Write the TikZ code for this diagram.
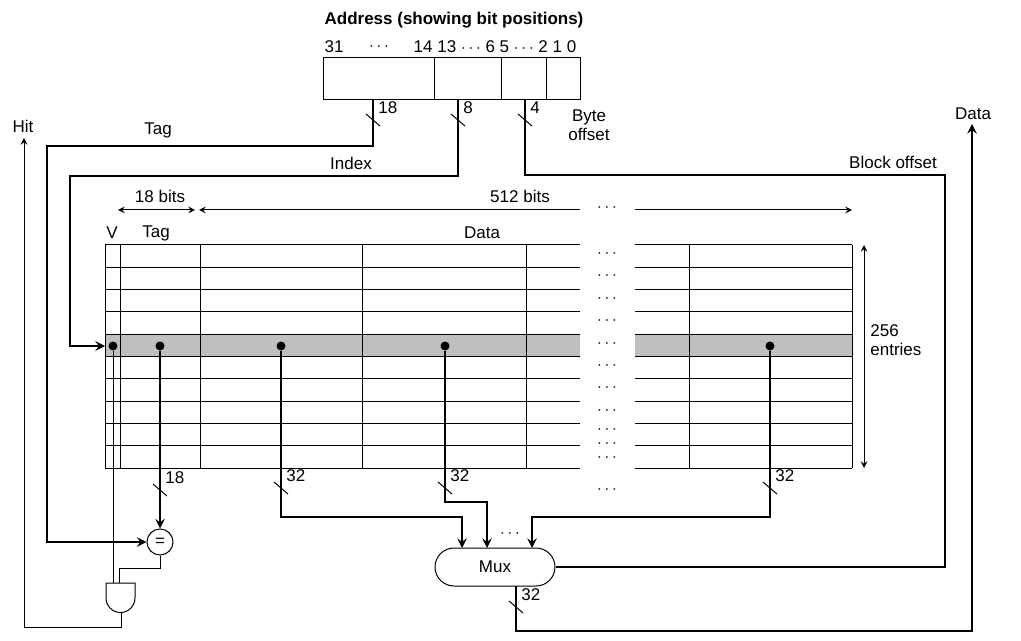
\documentclass[tikz,border=0pt]{standalone}
\usepackage{fontspec}
\setmainfont{Liberation Sans}
\usetikzlibrary{positioning,shapes.misc}
\tikzset{
  wire/.style={line width=1.1pt},
  thin/.style={line width=0.5pt},
  lbl/.style={font=\fontsize{8.5}{9.5}\selectfont, inner sep=1pt},
  tap/.style={circle, fill=black, inner sep=0pt, minimum size=4.5pt},
}
\newcommand{\busmark}[3]{\draw[thin] (#1-7,#2-6) -- (#1+7,#2+6); \node[lbl, anchor=south west] at (#1+3,#2-4) {#3};}
\begin{document}
\begin{tikzpicture}[x=0.5pt,y=-0.5pt,>=stealth]
\useasboundingbox (0,0) rectangle (1021,641);
% address
\node[lbl, font=\fontsize{8.5}{9.5}\selectfont\bfseries] (title) at (454,20) {Address (showing bit positions)};
\node[lbl] (b31) at (334,47) {31};
\node[lbl] (bd) at (379,47) {$\cdots$};
\node[lbl] (bits) at (495,47) {14 13 $\cdots$ 6 5 $\cdots$ 2 1 0};
\draw[thin] (323,58) rectangle (580,100);
\foreach \x in {434,501,546} \draw[thin] (\x,58) -- (\x,100);
\coordinate (tagout) at (373,100);
\coordinate (idxout) at (458,100);
\coordinate (offout) at (525,100);
\node[lbl, align=center] (byte) at (589,125) {Byte\\offset};
% table
\fill[gray!50] (105,334) rectangle (580,357);
\fill[gray!50] (635,334) rectangle (852,357);
\foreach \i in {0,...,10} {
  \draw[thin] (105,245+22.3*\i) -- (580,245+22.3*\i);
  \draw[thin] (635,245+22.3*\i) -- (852,245+22.3*\i);
  }
\foreach \x in {105,120,200,362,526} \draw[thin] (\x,245) -- (\x,468);
\foreach \x in {689,852} \draw[thin] (\x,245) -- (\x,468);
\foreach \y in {256,278,301,323,346,368,390,413,432,446,460,492} \node[lbl] at (607,\y-2) {$\cdots$};
\node[lbl] (V) at (112,233) {V};
\node[lbl] (tagh) at (156,233) {Tag};
\node[lbl] (datah) at (482,233) {Data};
\node[lbl] (b18) at (160,196) {18 bits};
\node[lbl] (b512) at (520,196) {512 bits};
\node[lbl] at (607,208) {$\cdots$};
\draw[thin,<->] (118,210) -- (195,210);
\draw[thin,<-] (199,210) -- (580,210);
\draw[thin,->] (635,210) -- (852,210);
\draw[thin,<->] (864,245) -- (864,468);
\node[lbl, align=left, anchor=west] (ent) at (868,340) {256\\entries};
% taps
\node[tap] (tv) at (113,346) {};
\node[tap] (tt) at (160,346) {};
\node[tap] (td1) at (281,346) {};
\node[tap] (td2) at (445,346) {};
\node[tap] (td3) at (770,346) {};
% compare, and, mux
\node[draw, thin, circle, minimum size=13pt, inner sep=0pt, lbl] (eq) at (160,542) {=};
\node[draw, thin, rounded rectangle, minimum width=62pt, minimum height=19pt, lbl] (mux) at (495,567) {Mux};
\draw[thin] (106,583) -- (135,583) -- (135,598) arc (0:180:14.5) -- cycle;
\coordinate (andout) at (121,613);
% address wires
\draw[wire,->] (tagout) |- (47,146) |- (eq.west);
\busmark{373}{120}{18}
\node[lbl] (tagl) at (158,130) {Tag};
\draw[wire,->] (idxout) |- (70,176) |- (105,346);
\busmark{458}{120}{8}
\node[lbl] (idxl) at (351,163) {Index};
\draw[wire] (offout) |- (945,175) |- (mux.east);
\busmark{525}{120}{4}
\node[lbl] (offl) at (893,162) {Block offset};
% hit
\draw[thin] (tv) -- (113,583);
\draw[thin] (eq.south) |- (119,568) -- (119,583);
\draw[thin,->] (andout) |- (24,627) -- (24,138);
\node[lbl] (hit) at (23,126) {Hit};
\draw[wire,->] (tt) -- (eq.north);
\busmark{160}{490}{18}
% data
\draw[wire,->] (td1) |- (462,517) -- (462,548);
\busmark{281}{488}{32}
\draw[wire,->] (td2) |- (487,502) -- (487,548);
\busmark{445}{488}{32}
\draw[wire,->] (td3) |- (532,517) -- (532,548);
\busmark{770}{488}{32}
\node[lbl] at (510,534) {$\cdots$};
\draw[wire,->] (516,586) |- (972,631) -- (972,124);
\busmark{516}{607}{32}
\node[lbl] (data) at (973,114) {Data};
\end{tikzpicture}
\end{document}
